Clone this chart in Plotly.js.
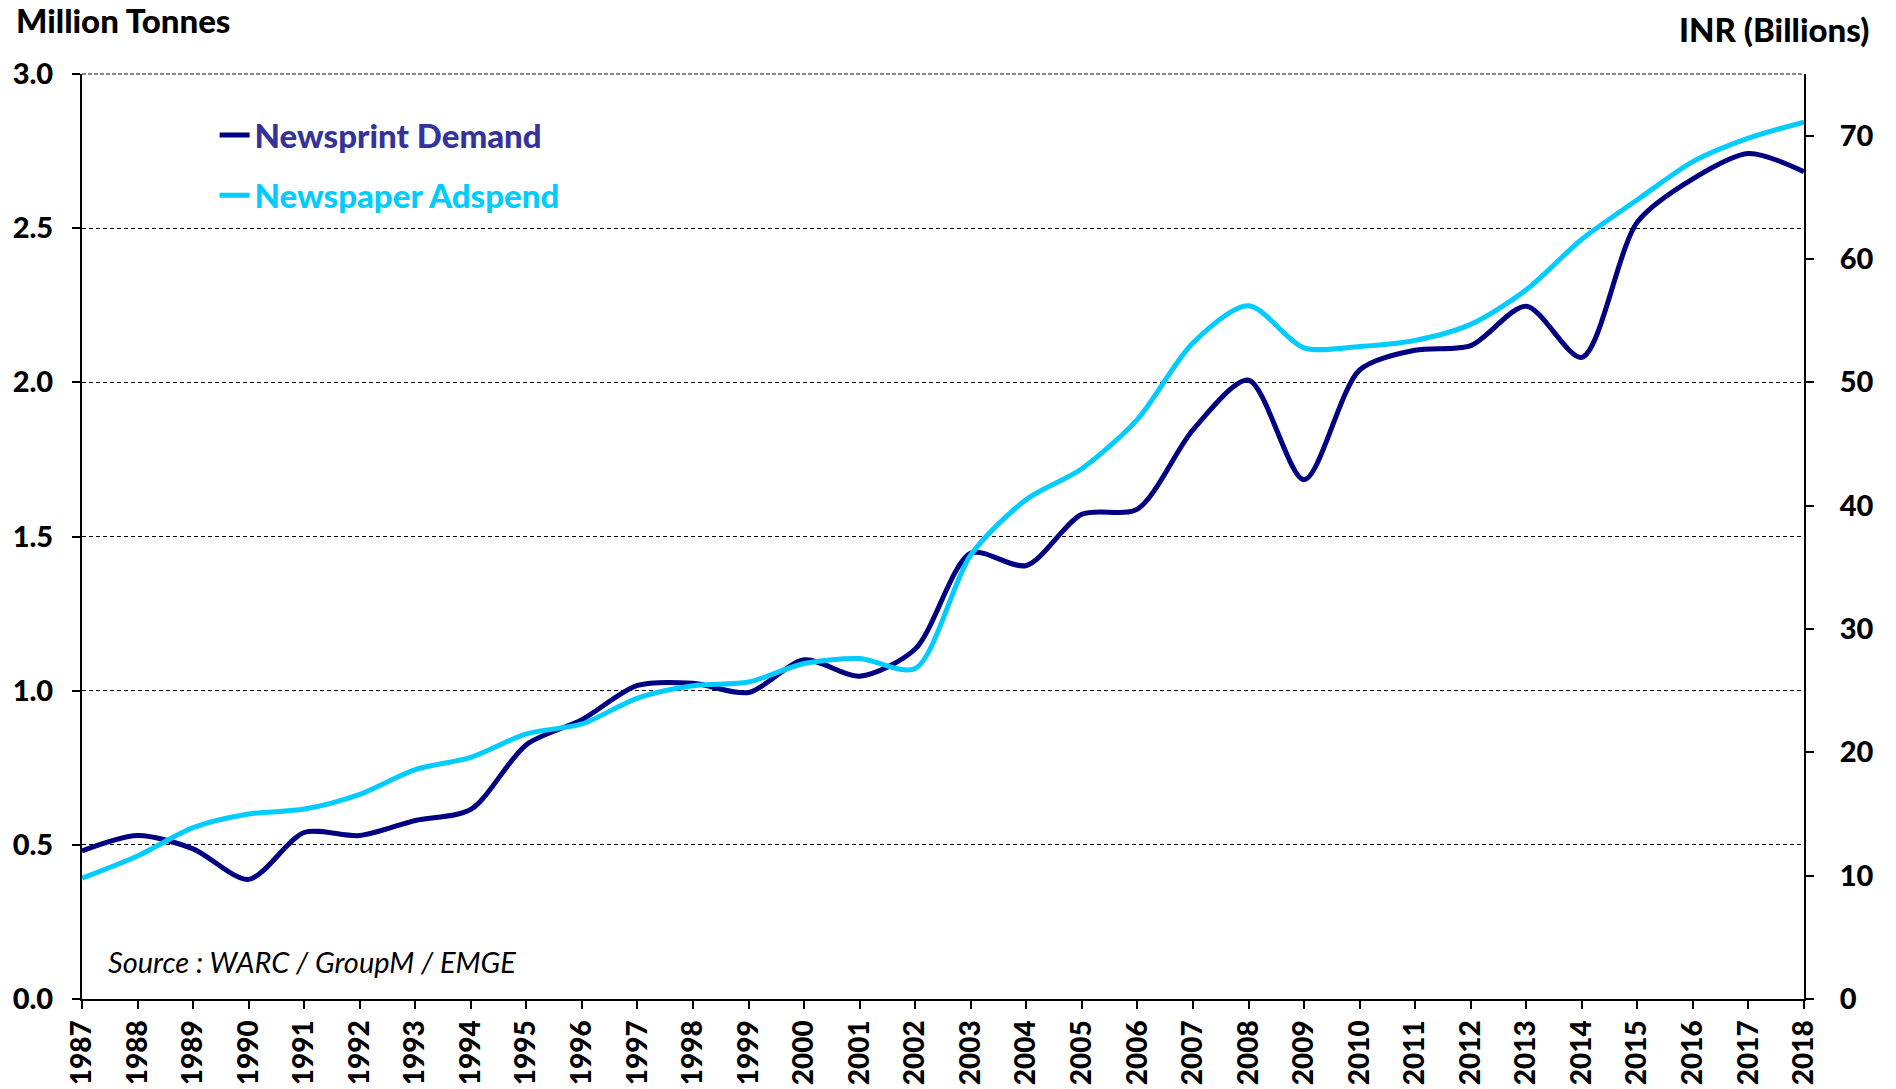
<!DOCTYPE html>
<html>
<head>
<meta charset="utf-8">
<script src="https://cdn.plot.ly/plotly-3.0.1.min.js"></script>
<style>
html,body{margin:0;padding:0;background:#fff;}
#chart{width:1896px;height:1089px;}
</style>
</head>
<body>
<div id="chart"></div>
<script>
const years = [1987,1988,1989,1990,1991,1992,1993,1994,1995,1996,1997,1998,1999,2000,2001,2002,2003,2004,2005,2006,2007,2008,2009,2010,2011,2012,2013,2014,2015,2016,2017,2018];
const newsprintDemand = [0.48,0.53,0.487,0.388,0.54,0.53,0.579,0.615,0.825,0.906,1.017,1.024,0.994,1.10,1.047,1.135,1.446,1.406,1.572,1.589,1.846,2.007,1.684,2.04,2.104,2.119,2.247,2.081,2.52,2.66,2.742,2.683];
const newspaperAdspend = [9.8,11.6,13.9,15.0,15.4,16.6,18.6,19.6,21.5,22.3,24.4,25.4,25.7,27.2,27.6,26.8,36.0,40.5,43.0,47.0,53.2,56.2,52.8,52.9,53.4,54.7,57.5,61.6,64.8,67.9,69.8,71.1];
const leftTicks = [0,0.5,1.0,1.5,2.0,2.5,3.0];
const leftTickText = ['0.0','0.5','1.0','1.5','2.0','2.5','3.0'];
const rightTicks = [0,10,20,30,40,50,60,70];

const FONT = 'Lato, "Open Sans", sans-serif';
const W = 900;

const traces = [
  {
    x: years, y: newsprintDemand, type: 'scatter', mode: 'lines',
    name: 'Newsprint Demand', legend: 'legend',
    line: {color: '#000080', width: 5, shape: 'spline', smoothing: 0.8},
    yaxis: 'y'
  },
  {
    x: years, y: newspaperAdspend, type: 'scatter', mode: 'lines',
    name: 'Newspaper Adspend', legend: 'legend2',
    line: {color: '#00CCFF', width: 5, shape: 'spline', smoothing: 0.8},
    yaxis: 'y2'
  }
];

const layout = {
  width: 1896, height: 1089,
  paper_bgcolor: '#fff', plot_bgcolor: '#fff',
  margin: {l: 82, r: 92, t: 74, b: 90},
  font: {family: FONT, color: '#000', size: 28},
  showlegend: true,
  legend: {
    x: 0.077, y: 0.934, xanchor: 'left', yanchor: 'middle',
    bgcolor: 'rgba(0,0,0,0)', borderwidth: 0,
    font: {family: FONT, size: 33, weight: W, color: '#333399'}
  },
  legend2: {
    x: 0.077, y: 0.869, xanchor: 'left', yanchor: 'middle',
    bgcolor: 'rgba(0,0,0,0)', borderwidth: 0,
    font: {family: FONT, size: 33, weight: W, color: '#00CCFF'}
  },
  xaxis: {
    range: [1987, 2018], tickmode: 'array', tickvals: years,
    ticktext: years.map(String), tickangle: -90,
    showgrid: false, zeroline: false,
    showline: true, linecolor: '#000', linewidth: 2,
    ticks: 'outside', ticklen: 8, tickwidth: 2, tickcolor: '#000',
    tickfont: {family: FONT, size: 28, weight: W},
    ticklabelstandoff: 0
  },
  yaxis: {
    range: [0, 3.0], tickmode: 'array', tickvals: leftTicks, ticktext: leftTickText,
    showgrid: true, gridcolor: '#000', gridwidth: 1, griddash: '4px,3px',
    zeroline: false, showline: true, linecolor: '#000', linewidth: 2,
    ticks: 'outside', ticklen: 8, tickwidth: 2, tickcolor: '#000',
    tickfont: {family: FONT, size: 29, weight: W},
    ticklabelstandoff: 13
  },
  yaxis2: {
    range: [0, 75], tickmode: 'array', tickvals: rightTicks,
    overlaying: 'y', side: 'right', showgrid: false, zeroline: false,
    showline: true, linecolor: '#000', linewidth: 2,
    ticks: 'outside', ticklen: 8, tickwidth: 2, tickcolor: '#000',
    tickfont: {family: FONT, size: 29, weight: W},
    ticklabelstandoff: 20
  },
  shapes: [
    {type: 'line', xref: 'paper', yref: 'paper', x0: 0, x1: 1, y0: 1, y1: 1,
     line: {color: '#888', width: 2, dash: '4px,2px'}}
  ],
  annotations: [
    {text: 'Million Tonnes', xref: 'paper', yref: 'paper', x: -0.0395, y: 1.0, xanchor: 'left', yanchor: 'middle', yshift: 54,
     showarrow: false, font: {family: FONT, size: 33, weight: W, color: '#000'}},
    {text: 'INR (Billions)', xref: 'paper', yref: 'paper', x: 1.0389, y: 1.0, xanchor: 'right', yanchor: 'middle', yshift: 45,
     showarrow: false, font: {family: FONT, size: 33, weight: W, color: '#000'}},
    {text: '<i>Source : WARC / GroupM / EMGE</i>', xref: 'paper', yref: 'paper', x: 0.014, y: 0.041, xanchor: 'left', yanchor: 'middle',
     showarrow: false, font: {family: FONT, size: 29, color: '#000'}}
  ]
};

Plotly.newPlot('chart', traces, layout, {staticPlot: true, displayModeBar: false});
</script>
</body>
</html>
